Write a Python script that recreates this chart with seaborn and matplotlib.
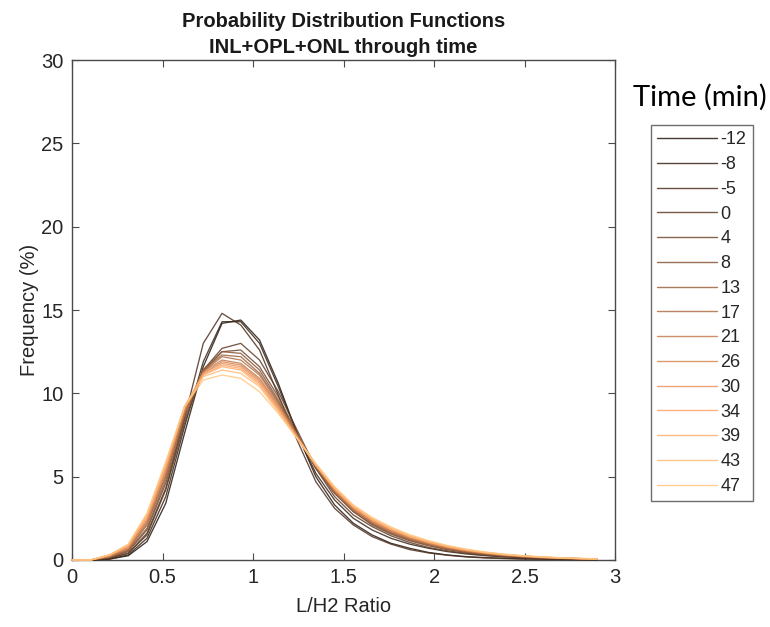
import numpy as np
import pandas as pd
import matplotlib
matplotlib.use("Agg")
import matplotlib.pyplot as plt
import seaborn as sns

# L/H2 ratio bin positions
ratio = np.linspace(0, 2.9, 29)

times = [-12, -8, -5, 0, 4, 8, 13, 17, 21, 26, 30, 34, 39, 43, 47]

# Frequency (%) per bin for each acquisition time (min)
f_m12 = [0, 0, 0.05, 0.25, 1.1, 3.4, 7.6, 11.6, 14.2, 14.4, 13.2, 10.6, 7.6, 5.0, 3.3, 2.2, 1.5, 1.0, 0.7, 0.45, 0.3, 0.2, 0.14, 0.1, 0.07, 0.05, 0.03, 0.02, 0.01]
f_m8 = [0, 0, 0.05, 0.3, 1.3, 3.8, 8.0, 11.9, 14.3, 14.3, 13.0, 10.4, 7.6, 5.2, 3.6, 2.5, 1.8, 1.3, 0.95, 0.7, 0.5, 0.36, 0.26, 0.18, 0.13, 0.09, 0.06, 0.04, 0.03]
f_m5 = [0, 0, 0.1, 0.4, 1.6, 4.3, 8.5, 13.0, 14.8, 14.1, 12.6, 9.9, 7.2, 4.7, 3.1, 2.1, 1.4, 0.95, 0.62, 0.42, 0.28, 0.18, 0.12, 0.08, 0.05, 0.04, 0.03, 0.02, 0.01]
f_0 = [0, 0, 0.1, 0.4, 1.5, 4.2, 8.2, 11.4, 12.7, 13.0, 12.0, 10.1, 7.8, 5.5, 3.8, 2.7, 2.0, 1.45, 1.05, 0.75, 0.55, 0.4, 0.28, 0.2, 0.14, 0.1, 0.07, 0.05, 0.03]
f_4 = [0, 0, 0.15, 0.5, 1.8, 4.6, 8.4, 11.3, 12.5, 12.6, 11.6, 9.8, 7.6, 5.5, 4.0, 2.9, 2.1, 1.55, 1.15, 0.85, 0.62, 0.45, 0.33, 0.24, 0.17, 0.12, 0.09, 0.06, 0.04]
f_8 = [0, 0, 0.15, 0.55, 1.9, 4.8, 8.6, 11.4, 12.5, 12.4, 11.4, 9.6, 7.5, 5.5, 4.0, 2.9, 2.15, 1.6, 1.2, 0.9, 0.65, 0.48, 0.35, 0.26, 0.19, 0.13, 0.09, 0.06, 0.04]
f_13 = [0, 0, 0.2, 0.6, 2.1, 5.0, 8.8, 11.4, 12.3, 12.2, 11.2, 9.5, 7.5, 5.6, 4.1, 3.0, 2.2, 1.65, 1.25, 0.93, 0.68, 0.5, 0.37, 0.27, 0.2, 0.14, 0.1, 0.07, 0.05]
f_17 = [0, 0, 0.2, 0.65, 2.2, 5.1, 8.8, 11.3, 12.2, 12.0, 11.1, 9.4, 7.5, 5.6, 4.1, 3.0, 2.25, 1.7, 1.28, 0.96, 0.7, 0.52, 0.38, 0.28, 0.2, 0.14, 0.1, 0.07, 0.05]
f_21 = [0, 0, 0.2, 0.7, 2.3, 5.3, 9.0, 11.3, 12.0, 11.8, 10.9, 9.3, 7.5, 5.7, 4.2, 3.1, 2.3, 1.75, 1.32, 1.0, 0.74, 0.55, 0.4, 0.29, 0.21, 0.15, 0.11, 0.08, 0.05]
f_26 = [0, 0, 0.25, 0.75, 2.4, 5.4, 9.0, 11.2, 11.9, 11.7, 10.8, 9.2, 7.4, 5.7, 4.2, 3.1, 2.35, 1.78, 1.35, 1.02, 0.76, 0.56, 0.41, 0.3, 0.22, 0.16, 0.11, 0.08, 0.05]
f_30 = [0, 0, 0.25, 0.8, 2.5, 5.5, 9.1, 11.2, 11.8, 11.6, 10.7, 9.1, 7.4, 5.7, 4.25, 3.15, 2.4, 1.82, 1.38, 1.05, 0.78, 0.58, 0.43, 0.31, 0.23, 0.16, 0.12, 0.08, 0.06]
f_34 = [0, 0, 0.3, 0.85, 2.6, 5.6, 9.2, 11.1, 11.7, 11.5, 10.6, 9.0, 7.3, 5.7, 4.3, 3.2, 2.42, 1.85, 1.4, 1.07, 0.8, 0.6, 0.44, 0.32, 0.24, 0.17, 0.12, 0.08, 0.06]
f_39 = [0, 0, 0.3, 0.9, 2.7, 5.7, 9.2, 11.1, 11.6, 11.4, 10.5, 9.0, 7.3, 5.7, 4.3, 3.2, 2.45, 1.88, 1.43, 1.1, 0.82, 0.62, 0.45, 0.33, 0.24, 0.17, 0.12, 0.09, 0.06]
f_43 = [0, 0, 0.3, 0.9, 2.75, 5.8, 9.2, 11.0, 11.4, 11.2, 10.4, 8.9, 7.3, 5.7, 4.35, 3.25, 2.5, 1.92, 1.46, 1.12, 0.84, 0.63, 0.46, 0.34, 0.25, 0.18, 0.13, 0.09, 0.06]
f_47 = [0, 0, 0.3, 0.95, 2.8, 5.9, 9.2, 10.8, 11.1, 10.9, 10.1, 8.8, 7.3, 5.8, 4.4, 3.3, 2.55, 1.98, 1.52, 1.16, 0.87, 0.65, 0.48, 0.35, 0.26, 0.19, 0.13, 0.09, 0.06]

series = [f_m12, f_m8, f_m5, f_0, f_4, f_8, f_13, f_17, f_21, f_26,
          f_30, f_34, f_39, f_43, f_47]

x_ticks = [0, 0.5, 1, 1.5, 2, 2.5, 3]
x_tick_labels = ["0", "0.5", "1", "1.5", "2", "2.5", "3"]
y_ticks = [0, 5, 10, 15, 20, 25, 30]

df = pd.concat(
    [pd.DataFrame({"ratio": ratio, "freq": vals, "time": str(t)})
     for t, vals in zip(times, series)],
    ignore_index=True,
)

sns.set_theme(style="white")
plt.rcParams["font.family"] = ["Liberation Sans", "DejaVu Sans"]

cmap = plt.get_cmap("copper")
palette = [cmap(v) for v in np.linspace(0.12, 1, len(times))]
hue_order = [str(t) for t in times]

fig = plt.figure(figsize=(7.7, 6.27), dpi=100)
ax = fig.add_axes([0.0935, 0.107, 0.7055, 0.797])

sns.lineplot(data=df, x="ratio", y="freq", hue="time", hue_order=hue_order,
             palette=palette, linewidth=0.95, alpha=0.85, ax=ax, legend=True,
             sort=False, zorder=3)
for ln in ax.get_lines():
    ln.set_clip_on(False)

ax.set_xlim(0, 3)
ax.set_ylim(0, 30)
ax.set_xticks(x_ticks)
ax.set_xticklabels(x_tick_labels)
ax.set_yticks(y_ticks)

axis_grey = "#4a4a4a"
for s in ax.spines.values():
    s.set_visible(True)
    s.set_color(axis_grey)
    s.set_linewidth(1.0)
    s.set_zorder(1)
ax.tick_params(direction="in", length=5, width=0.8, color=axis_grey,
               labelcolor="#262626", labelsize=14.5, top=True, right=True,
               bottom=True, left=True, pad=6)

ax.set_xlabel("L/H2 Ratio", fontsize=14.5, color="#262626", labelpad=7)
ax.set_ylabel("Frequency (%)", fontsize=14.5, color="#262626", labelpad=2)
ax.set_title("Probability Distribution Functions\nINL+OPL+ONL through time",
             fontsize=14.5, fontweight="bold", color="#1a1a1a", pad=5,
             linespacing=1.45)

handles, labels = ax.get_legend_handles_labels()
ax.get_legend().remove()
leg = fig.legend(handles, labels, loc="upper left",
                 bbox_to_anchor=(651 / 770, 1 - 125 / 627),
                 frameon=True, fancybox=False, fontsize=13,
                 handlelength=3.3, handletextpad=0.2, labelspacing=0.43,
                 borderpad=0.35, borderaxespad=0)
leg.get_frame().set_edgecolor(axis_grey)
leg.get_frame().set_linewidth(1.0)
for line in leg.get_lines():
    line.set_linewidth(1.0)

fig.text(700 / 770, 1 - 97 / 627, "Time (min)", ha="center", va="center",
         fontsize=21, family=["Lato", "DejaVu Sans"], color="black")

fig.savefig("out.png", dpi=100)
